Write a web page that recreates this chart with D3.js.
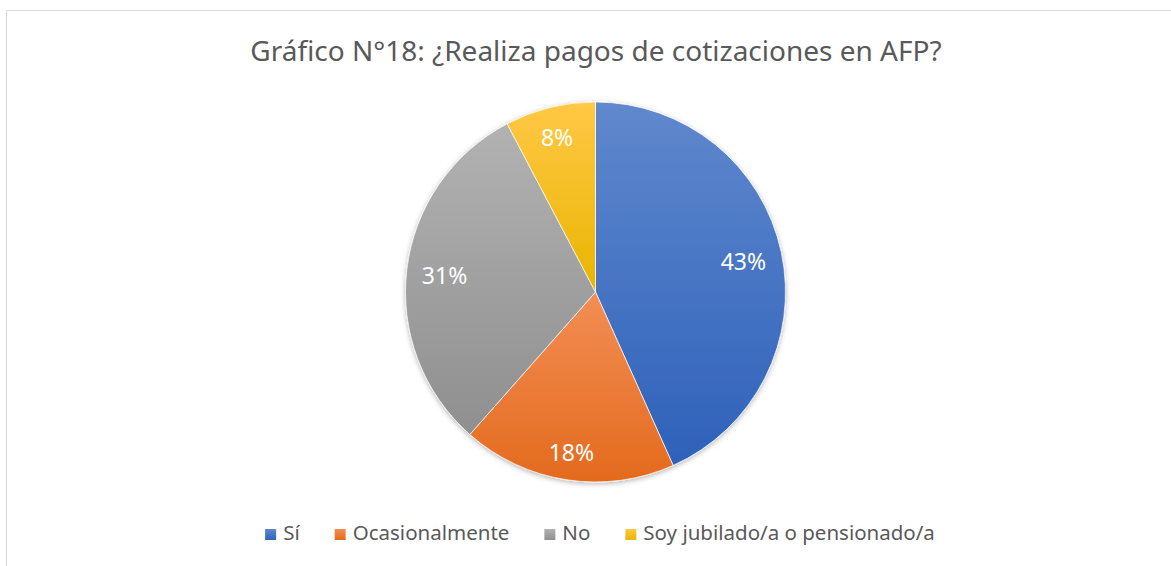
<!DOCTYPE html>
<html>
<head>
<meta charset="utf-8">
<script src="https://cdn.jsdelivr.net/npm/d3@7"></script>
<style>
  body { margin: 0; background: #fff; }
  text { font-family: "Noto Sans", "Open Sans", sans-serif; }
</style>
</head>
<body>
<svg id="chart" width="1171" height="566"></svg>
<script>
// chart data
var title = "Gráfico N°18: ¿Realiza pagos de cotizaciones en AFP?";
var categories = ["Sí", "Ocasionalmente", "No", "Soy jubilado/a o pensionado/a"];
var values = [43.3, 18.2, 30.8, 7.7];
var labels = ["43%", "18%", "31%", "8%"];
// gradient colours, light (top) and dark (bottom)
var topColors = ["#6088cd", "#f28e55", "#b2b2b2", "#ffc846"];
var bottomColors = ["#2e61ba", "#e46a1d", "#8f8f8f", "#e9b500"];

var W = 1171, H = 566;
var cx = 595.5, cy = 292, R = 190;

var svg = d3.select("#chart");
var defs = svg.append("defs");

// frame of the chart area
svg.append("path")
  .attr("d", "M6.5," + H + "V10.5H" + W)
  .attr("fill", "none")
  .attr("stroke", "#d9d9d9")
  .attr("stroke-width", 1);

// vertical gradient for each category
categories.forEach(function(c, i) {
  var g = defs.append("linearGradient")
    .attr("id", "grad" + i)
    .attr("x1", 0).attr("y1", 0).attr("x2", 0).attr("y2", 1);
  g.append("stop").attr("offset", "0%").attr("stop-color", topColors[i]);
  g.append("stop").attr("offset", "100%").attr("stop-color", bottomColors[i]);
});

var shadow = defs.append("filter").attr("id", "shadow")
  .attr("x", "-10%").attr("y", "-10%").attr("width", "120%").attr("height", "120%");
shadow.append("feDropShadow")
  .attr("dx", 0).attr("dy", 1.5).attr("stdDeviation", 2.5)
  .attr("flood-color", "#000").attr("flood-opacity", 0.3);

// title
svg.append("text")
  .attr("x", 596)
  .attr("y", 61)
  .attr("text-anchor", "middle")
  .attr("fill", "#595959")
  .style("font-size", "28px")
  .text(title);

// pie
var pie = d3.pie().sort(null).value(function(d) { return d; });
var arc = d3.arc().innerRadius(0).outerRadius(R);
var arcs = pie(values);

var g = svg.append("g").attr("transform", "translate(" + cx + "," + cy + ")");
var slices = g.append("g").attr("filter", "url(#shadow)");
slices.selectAll("path")
  .data(arcs)
  .enter().append("path")
  .attr("d", arc)
  .attr("fill", function(d, i) { return "url(#grad" + i + ")"; })
  .attr("stroke", "#fff")
  .attr("stroke-width", 0.7);

// data labels, kept inside the slice near the rim
var lab = g.selectAll("text.lab")
  .data(arcs)
  .enter().append("text")
  .attr("class", "lab")
  .attr("text-anchor", "middle")
  .attr("fill", "#fff")
  .style("font-size", "23px")
  .text(function(d, i) { return labels[i]; });

lab.each(function(d) {
  var hw = this.getComputedTextLength() / 2, hh = 12;
  var a = (d.startAngle + d.endAngle) / 2;
  var s = Math.sin(a), c = Math.cos(a);
  var r = R - 14 - (Math.abs(s) * hw + Math.abs(c) * hh);
  d3.select(this)
    .attr("x", s * r)
    .attr("y", -c * r + 10);
});

// legend
var legend = svg.append("g");
var items = legend.selectAll("g")
  .data(categories)
  .enter().append("g");
items.append("rect")
  .attr("width", 11).attr("height", 11)
  .attr("y", -11)
  .attr("fill", function(d, i) { return "url(#grad" + i + ")"; });
items.append("text")
  .attr("x", 18)
  .attr("fill", "#595959")
  .style("font-size", "20.5px")
  .text(function(d) { return d; });

var x = 0;
items.each(function() {
  var w = d3.select(this).select("text").node().getComputedTextLength();
  d3.select(this).attr("transform", "translate(" + x + ",0)");
  x += 18 + w + 35;
});
var total = x - 35;
legend.attr("transform", "translate(" + (600 - total / 2) + ",540)");
</script>
</body>
</html>
